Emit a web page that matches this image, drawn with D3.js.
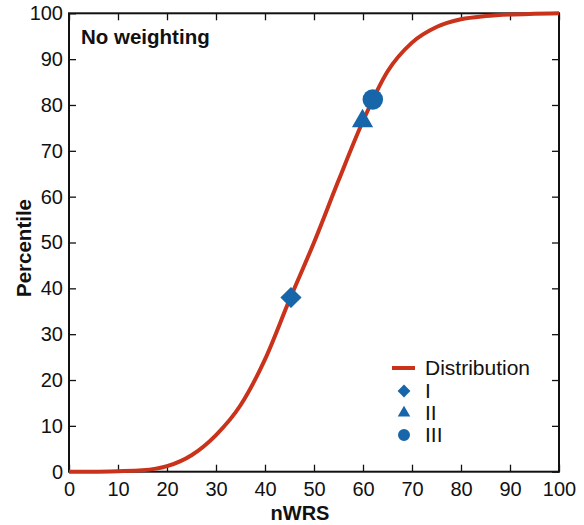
<!DOCTYPE html>
<html>
<head>
<meta charset="utf-8">
<script src="https://cdn.jsdelivr.net/npm/d3@7"></script>
<style>
  body { margin: 0; background: #fff; }
  svg { display: block; font-family: "Liberation Sans", Arial, Helvetica, sans-serif; }
</style>
</head>
<body>
<svg id="chart" width="584" height="525"></svg>
<script>
// ---- data ----
const curveX = [0, 5, 10, 15, 20, 25, 30, 35, 40, 45, 50, 55, 60, 65, 70, 75, 80, 85, 90, 95, 100];
const curveY = [0, 0, 0.1, 0.3, 1.2, 3.6, 8, 14.5, 24.5, 37.5, 50, 63.5, 76.5, 87.3, 93.6, 97, 98.7, 99.4, 99.75, 99.9, 100];
const pointNames = ["I", "II", "III"];
const pointX = [45.3, 59.9, 62.0];
const pointY = [38.0, 76.5, 81.2];
const xTicks = [0, 10, 20, 30, 40, 50, 60, 70, 80, 90, 100];
const yTicks = [0, 10, 20, 30, 40, 50, 60, 70, 80, 90, 100];
const titleText = "No weighting";
const xLabel = "nWRS";
const yLabel = "Percentile";
const legendLineLabel = "Distribution";

const red = "#c9321b";
const blue = "#1666a9";

const svg = d3.select("#chart");
const margin = { left: 69, top: 13.3, right: 25, bottom: 53.3 };
const W = 584, H = 525;
const x = d3.scaleLinear().domain([0, 100]).range([margin.left, W - margin.right]);
const y = d3.scaleLinear().domain([0, 100]).range([H - margin.bottom, margin.top]);

const tickFont = 20;

// bottom axis
const gx = svg.append("g").attr("transform", `translate(0,${y(0)})`)
  .call(d3.axisBottom(x).tickValues(xTicks).tickSizeInner(-7).tickSizeOuter(0).tickPadding(10));
// left axis
const gy = svg.append("g").attr("transform", `translate(${x(0)},0)`)
  .call(d3.axisLeft(y).tickValues(yTicks).tickSizeInner(-7).tickSizeOuter(0).tickPadding(6));
// top axis
const gt = svg.append("g").attr("transform", `translate(0,${y(100)})`)
  .call(d3.axisTop(x).tickValues(xTicks).tickSizeInner(-7).tickSizeOuter(0).tickFormat(""));
// right axis
const gr = svg.append("g").attr("transform", `translate(${x(100)},0)`)
  .call(d3.axisRight(y).tickValues(yTicks).tickSizeInner(-7).tickSizeOuter(0).tickFormat(""));

[gx, gy, gt, gr].forEach(g => {
  g.select(".domain").remove();
  g.selectAll(".tick line").attr("stroke", "#111").attr("stroke-width", 1.3);
  g.selectAll(".tick text").attr("fill", "#111").style("font-size", tickFont + "px").attr("font-family", null);
});

// frame
svg.append("rect")
  .attr("x", x(0)).attr("y", y(100))
  .attr("width", x(100) - x(0)).attr("height", y(0) - y(100))
  .attr("fill", "none").attr("stroke", "#111").attr("stroke-width", 2);

// curve
const line = d3.line().x(d => x(d[0])).y(d => y(d[1])).curve(d3.curveMonotoneX);
svg.append("path")
  .datum(curveX.map((v, i) => [v, curveY[i]]))
  .attr("d", line)
  .attr("fill", "none").attr("stroke", red).attr("stroke-width", 4);

// markers
const symbols = [
  { type: d3.symbolSquare, size: 225, rotate: 45 },
  { type: d3.symbolTriangle, size: 195, rotate: 0 },
  { type: d3.symbolCircle, size: 330, rotate: 0 }
];
const legendSymbols = [
  { type: d3.symbolSquare, size: 82, rotate: 45 },
  { type: d3.symbolTriangle, size: 68, rotate: 0 },
  { type: d3.symbolCircle, size: 113, rotate: 0 }
];
pointNames.forEach((n, i) => {
  const s = symbols[i];
  svg.append("path")
    .attr("d", d3.symbol().type(s.type).size(s.size)())
    .attr("transform", `translate(${x(pointX[i])},${y(pointY[i])}) rotate(${s.rotate})`)
    .attr("fill", blue);
});

// title
svg.append("text").attr("x", 81).attr("y", 43.5)
  .style("font-size", "20.5px").style("font-weight", "bold").attr("fill", "#111")
  .text(titleText);

// axis labels
svg.append("text").attr("x", 300).attr("y", 520).attr("text-anchor", "middle")
  .style("font-size", "20px").style("font-weight", "bold").attr("fill", "#111")
  .text(xLabel);
svg.append("text").attr("transform", `translate(31,248) rotate(-90)`).attr("text-anchor", "middle")
  .style("font-size", "20.5px").style("font-weight", "bold").attr("fill", "#111")
  .text(yLabel);

// legend
const lg = svg.append("g");
lg.append("line").attr("x1", 392).attr("x2", 415).attr("y1", 368).attr("y2", 368)
  .attr("stroke", red).attr("stroke-width", 4);
lg.append("text").attr("x", 425).attr("y", 374.5).style("font-size", "21px").attr("fill", "#111").text(legendLineLabel);
const legY = [391, 413, 435];
pointNames.forEach((n, i) => {
  const s = legendSymbols[i];
  lg.append("path")
    .attr("d", d3.symbol().type(s.type).size(s.size)())
    .attr("transform", `translate(404,${legY[i]}) rotate(${s.rotate})`)
    .attr("fill", blue);
  lg.append("text").attr("x", 425).attr("y", legY[i] + 6.5).style("font-size", "21px").attr("fill", "#111").text(n);
});
</script>
</body>
</html>
